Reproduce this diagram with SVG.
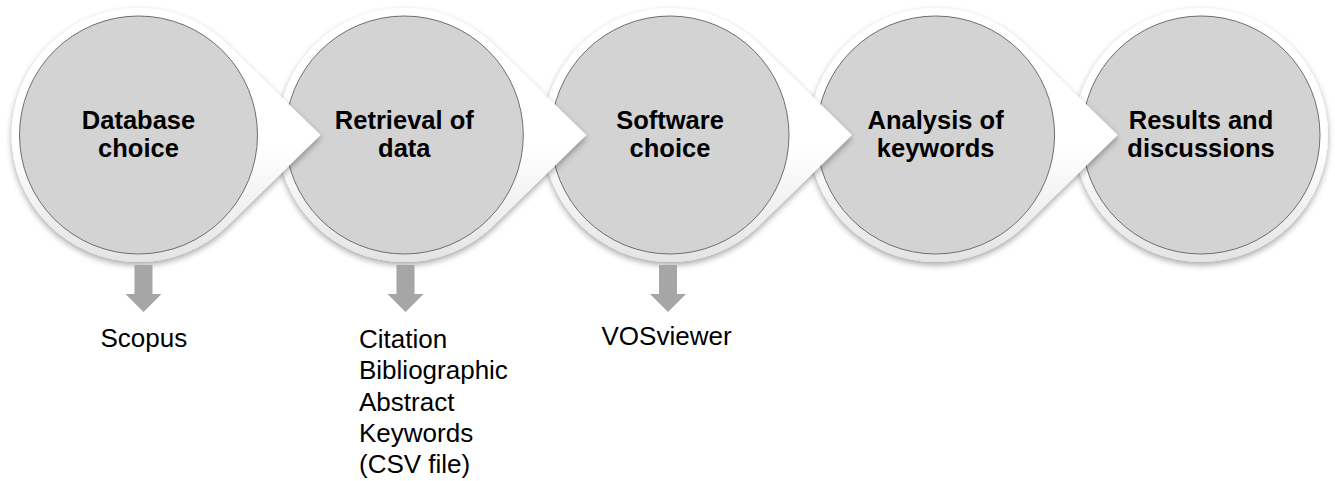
<svg xmlns="http://www.w3.org/2000/svg" xmlns:xlink="http://www.w3.org/1999/xlink" width="1335" height="481" viewBox="0 0 1335 481">
<style>
.title{font-family:"Liberation Sans",Arial,sans-serif;font-weight:bold;font-size:25.5px;fill:#000;text-anchor:middle}
.lbl{font-family:"Liberation Sans",Arial,sans-serif;font-size:26px;fill:#000}
.inner{fill:#d3d3d3;stroke:#6e6e6e;stroke-width:1}
.down{fill:#a6a6a6}
</style>
<defs>
<linearGradient id="wg" x1="0" y1="0" x2="0" y2="1">
<stop offset="0" stop-color="#ffffff"/>
<stop offset="0.55" stop-color="#ffffff"/>
<stop offset="1" stop-color="#e4e4e4"/>
</linearGradient>
<filter id="sh" x="-20%" y="-20%" width="140%" height="140%">
<feGaussianBlur in="SourceAlpha" stdDeviation="3"/>
<feOffset dy="3" result="b"/>
<feComponentTransfer><feFuncA type="linear" slope="0.35"/></feComponentTransfer>
<feMerge><feMergeNode/><feMergeNode in="SourceGraphic"/></feMerge>
</filter>
<path id="ptr" d="M88.2,-91.4 L182,0 L88.2,91.4 A127,127 0 1 1 88.2,-91.4 Z"/>
<circle id="ring" r="127"/>
</defs>
<g id="node5" transform="translate(1201,135)">
<use xlink:href="#ring" fill="url(#wg)" filter="url(#sh)"/>
<circle class="inner" r="119"/>
<text class="title"><tspan x="0" y="-6.5">Results and</tspan><tspan x="0" y="21.5">discussions</tspan></text>
</g>
<g id="node4" transform="translate(935.6,135)">
<use xlink:href="#ptr" fill="url(#wg)" filter="url(#sh)"/>
<circle class="inner" r="119"/>
<text class="title"><tspan x="0" y="-6.5">Analysis of</tspan><tspan x="0" y="21.5">keywords</tspan></text>
</g>
<g id="node3" transform="translate(670,135)">
<use xlink:href="#ptr" fill="url(#wg)" filter="url(#sh)"/>
<circle class="inner" r="119"/>
<text class="title"><tspan x="0" y="-6.5">Software</tspan><tspan x="0" y="21.5">choice</tspan></text>
</g>
<g id="node2" transform="translate(404.3,135)">
<use xlink:href="#ptr" fill="url(#wg)" filter="url(#sh)"/>
<circle class="inner" r="119"/>
<text class="title"><tspan x="0" y="-6.5">Retrieval of</tspan><tspan x="0" y="21.5">data</tspan></text>
</g>
<g id="node1" transform="translate(138.5,135)">
<use xlink:href="#ptr" fill="url(#wg)" filter="url(#sh)"/>
<circle class="inner" r="119"/>
<text class="title"><tspan x="0" y="-6.5">Database</tspan><tspan x="0" y="21.5">choice</tspan></text>
</g>
<g id="connectors">
<path class="down" d="M134.5,265 H152.5 V294 H161.5 L143.5,312 L125.5,294 H134.5 Z"/>
<path class="down" d="M396.5,265 H414.5 V294 H423.5 L405.5,312 L387.5,294 H396.5 Z"/>
<path class="down" d="M659,265 H677 V294 H686 L668,312 L650,294 H659 Z"/>
</g>
<g id="label1"><text class="lbl" x="100.5" y="347">Scopus</text></g>
<g id="label2">
<text class="lbl"><tspan x="359" y="348">Citation</tspan><tspan x="359" y="379.3">Bibliographic</tspan><tspan x="359" y="410.6">Abstract</tspan><tspan x="359" y="441.9">Keywords</tspan><tspan x="359" y="473.2">(CSV file)</tspan></text>
</g>
<g id="label3"><text class="lbl" x="601.5" y="345">VOSviewer</text></g>
</svg>
